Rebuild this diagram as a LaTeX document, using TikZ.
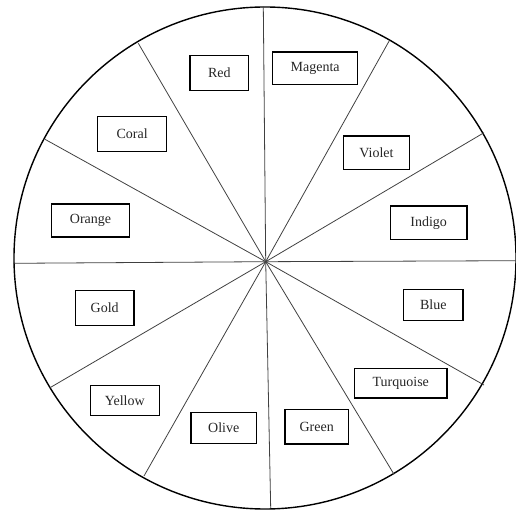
\documentclass[tikz,border=0pt]{standalone}
\usepackage{fontspec}
\setmainfont{Liberation Serif}
\begin{document}
\begin{tikzpicture}[x=1pt,y=-1pt,
  lab/.style={draw=black,line width=1.4pt,inner sep=0pt,font=\fontsize{14}{16}\selectfont,text=black!85},
  spoke/.style={draw=black!75,line width=0.8pt}]
\useasboundingbox (0,0) rectangle (516,510);
\draw[line width=1.4pt] (265,258) circle (251);
\coordinate (c) at (265.7,261.7);
\coordinate (p1) at (263.3,6.7);
\coordinate (p2) at (389.3,40.7);
\coordinate (p3) at (484,132.7);
\coordinate (p4) at (516,260.7);
\coordinate (p5) at (484,385);
\coordinate (p6) at (394,474.3);
\coordinate (p7) at (270.7,508.5);
\coordinate (p8) at (144,476);
\coordinate (p9) at (50,387.7);
\coordinate (p10) at (13.3,263.3);
\coordinate (p11) at (45,139.3);
\coordinate (p12) at (138.3,43.3);
\foreach \i in {1,...,12} \draw[spoke] (c) -- (p\i);
\node[lab,minimum width=58.7pt,minimum height=34.6pt] (red) at (219.3,73) {Red};
\node[lab,minimum width=85pt,minimum height=32.7pt] (magenta) at (315.2,68.3) {Magenta};
\node[lab,minimum width=69pt,minimum height=34.6pt] (coral) at (132.2,134) {Coral};
\node[lab,minimum width=66.4pt,minimum height=33.3pt] (violet) at (376.5,152.7) {Violet};
\node[lab,minimum width=77.6pt,minimum height=33pt] (orange) at (90.5,220.5) {Orange};
\node[lab,minimum width=76.7pt,minimum height=33.7pt] (indigo) at (428.7,222.8) {Indigo};
\node[lab,minimum width=58.7pt,minimum height=35.4pt] (gold) at (104.7,308) {Gold};
\node[lab,minimum width=59.3pt,minimum height=30.6pt] (blue) at (433.3,305) {Blue};
\node[lab,minimum width=69pt,minimum height=30pt] (yellow) at (124.8,400.3) {Yellow};
\node[lab,minimum width=92.3pt,minimum height=29.7pt] (turquoise) at (400.8,383.2) {Turquoise};
\node[lab,minimum width=65.3pt,minimum height=31pt] (olive) at (223.7,428.2) {Olive};
\node[lab,minimum width=63.3pt,minimum height=34.3pt] (green) at (316.7,426.8) {Green};
\end{tikzpicture}
\end{document}
